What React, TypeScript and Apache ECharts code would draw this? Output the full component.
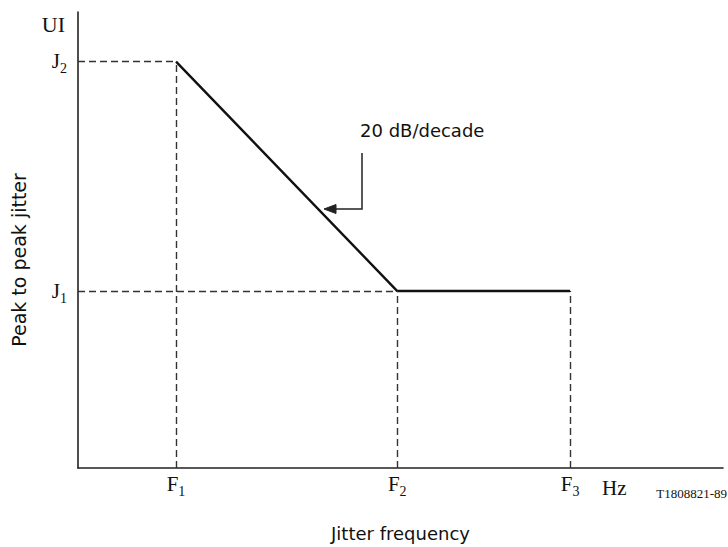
import React, { useEffect, useRef } from "react";
import * as echarts from "echarts";

// Jitter frequency breakpoints F1, F2, F3 (relative units along the axis)
const freqBreaks = [15.2, 49.5, 76.3];
const freqSubs = ["1", "2", "3"];
// Peak-to-peak jitter levels J1, J2 (relative units)
const jitterLevels = [38.8, 89.1];
const jitterSubs = ["1", "2"];
// Mask curve: (F1,J2) -> (F2,J1) -> (F3,J1)
const maskFreq = [15.2, 49.5, 76.3];
const maskJitter = [89.1, 38.8, 38.8];

const SERIF = "'Liberation Serif', 'DejaVu Serif', serif";
const SANS = "'DejaVu Sans', 'Liberation Sans', sans-serif";

export default function App() {
  const ref = useRef<HTMLDivElement>(null);
  useEffect(() => {
    if (!ref.current) return;
    const chart = echarts.init(ref.current, undefined, { renderer: "svg" });
    const [F1, F2, F3] = freqBreaks;
    const [J1, J2] = jitterLevels;
    const guides = [
      [[0, J2], [F1, J2]],
      [[F1, 0], [F1, J2]],
      [[0, J1], [F2, J1]],
      [[F2, 0], [F2, J1]],
      [[F3, 0], [F3, J1]],
    ].map(([a, b]) => [{ coord: a }, { coord: b }]);

    const rich = {
      m: { fontFamily: SERIF, fontSize: 21, color: "#111", lineHeight: 22, verticalAlign: "top" },
      s: { fontFamily: SERIF, fontSize: 14, color: "#111", lineHeight: 16, padding: [11, 0, 0, 0], verticalAlign: "top" },
    };

    chart.setOption({
      animation: false,
      backgroundColor: "#fff",
      grid: { left: 78, right: 5, top: 12, bottom: 76, containLabel: false },
      xAxis: {
        type: "value",
        min: 0,
        max: 100,
        name: "Jitter frequency",
        nameLocation: "middle",
        nameGap: 56,
        nameTextStyle: { fontFamily: SANS, fontSize: 18, color: "#111" },
        axisLine: { show: true, lineStyle: { color: "#222", width: 1.6 } },
        axisTick: { show: false },
        splitLine: { show: false },
        axisLabel: {
          customValues: freqBreaks,
          margin: 5,
          formatter: (v: number) => {
            const i = freqBreaks.indexOf(v);
            return i < 0 ? "" : `{m|F}{s|${freqSubs[i]}}`;
          },
          rich,
        },
      },
      yAxis: {
        type: "value",
        min: 0,
        max: 100,
        name: "Peak to peak jitter",
        nameLocation: "middle",
        nameGap: 50,
        nameTextStyle: { fontFamily: SANS, fontSize: 19, color: "#111", padding: [0, 40, 0, 0] },
        axisLine: { show: true, lineStyle: { color: "#222", width: 1.6 } },
        axisTick: { show: false },
        splitLine: { show: false },
        axisLabel: {
          customValues: jitterLevels,
          margin: 11,
          formatter: (v: number) => {
            const i = jitterLevels.indexOf(v);
            return i < 0 ? "" : `{m|J}{s|${jitterSubs[i]}}`;
          },
          rich,
        },
      },
      series: [
        {
          type: "line",
          data: maskFreq.map((f, i) => [f, maskJitter[i]]),
          symbol: "none",
          lineStyle: { color: "#111", width: 2.4 },
          silent: true,
          z: 3,
          markLine: {
            silent: true,
            symbol: ["none", "none"],
            label: { show: false },
            lineStyle: { color: "#333", width: 1.4, type: [7, 4] },
            data: guides,
          },
        },
      ],
      graphic: [
        {
          type: "text",
          x: 65,
          y: 24,
          style: { text: "UI", fontFamily: SERIF, fontSize: 22, fill: "#111", align: "right", verticalAlign: "middle" },
        },
        {
          type: "text",
          x: 602,
          y: 488,
          style: { text: "Hz", fontFamily: SERIF, fontSize: 21, fill: "#111", align: "left", verticalAlign: "middle" },
        },
        {
          type: "text",
          x: 727,
          y: 493,
          style: { text: "T1808821-89", fontFamily: SERIF, fontSize: 13, fill: "#111", align: "right", verticalAlign: "middle" },
        },
        {
          type: "text",
          x: 360,
          y: 130,
          style: { text: "20 dB/decade", fontFamily: SANS, fontSize: 18, fill: "#111", align: "left", verticalAlign: "middle" },
        },
        {
          type: "polyline",
          shape: { points: [[362, 153], [362, 209], [333, 209]] },
          style: { stroke: "#222", lineWidth: 1.5, fill: "none" },
        },
        {
          type: "polygon",
          shape: { points: [[324, 209], [336, 204.5], [336, 213.5]] },
          style: { fill: "#222", stroke: "#222", lineWidth: 1 },
        },
      ],
    });
    return () => chart.dispose();
  }, []);
  return <div ref={ref} style={{ width: 728, height: 547, position: "absolute", left: 0, top: 0 }} />;
}
